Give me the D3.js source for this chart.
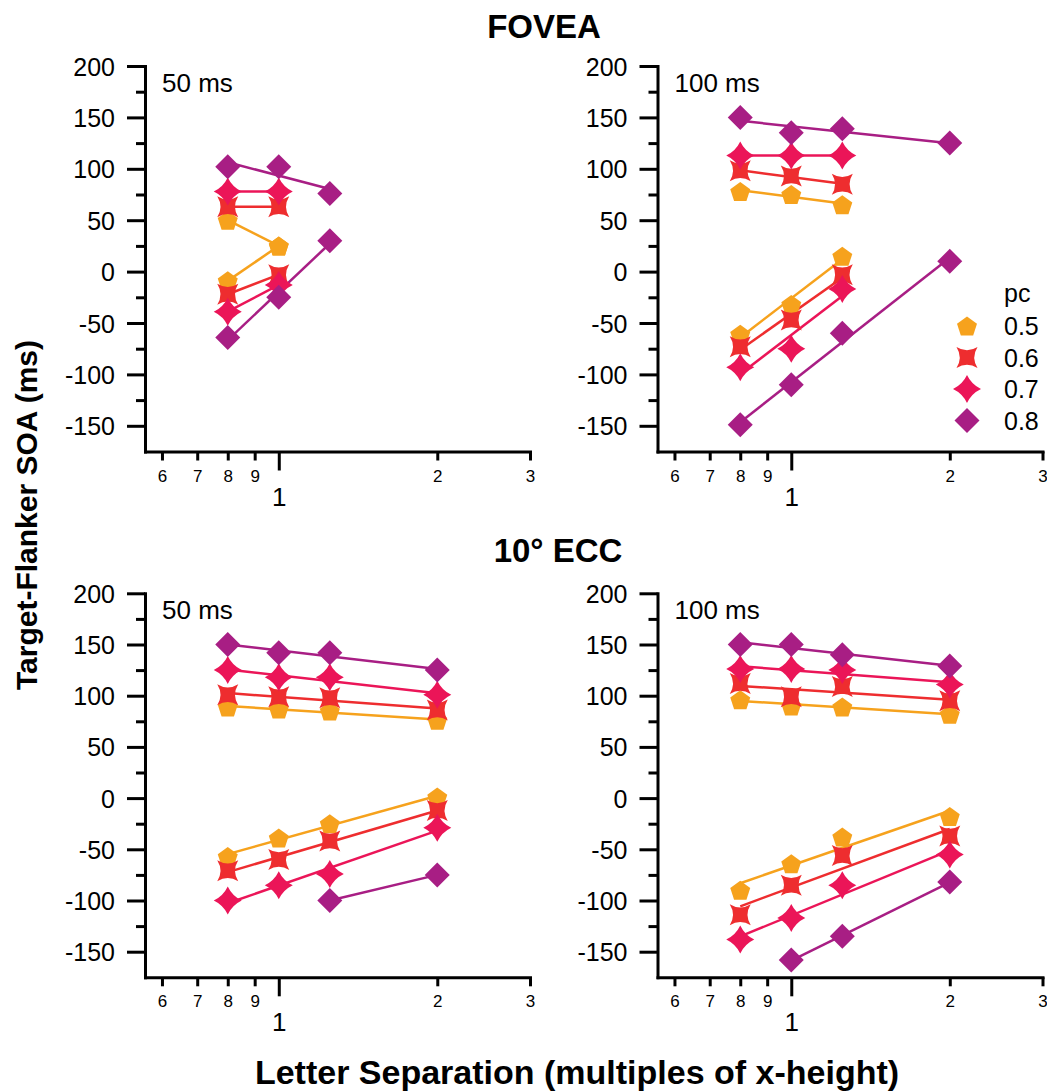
<!DOCTYPE html>
<html>
<head>
<meta charset="utf-8">
<script src="https://cdn.jsdelivr.net/npm/d3@7"></script>
<style>
  html, body { margin: 0; padding: 0; background: #fff; }
  svg { display: block; }
  text { font-family: "Liberation Sans", Arial, Helvetica, sans-serif; fill: #000; }
</style>
</head>
<body>
<svg id="chart" width="1047" height="1091"></svg>
<script>
// ---------- data ----------
const pcLevels = ["0.5", "0.6", "0.7", "0.8"];
const pcColors = ["#F6A21D", "#EE2D2F", "#EB1558", "#A81E84"];
const minorTickValues = [0.6, 0.7, 0.8, 0.9, 2, 3];
const minorTickLabels = ["6", "7", "8", "9", "2", "3"];
const majorTickValues = [1];
const majorTickLabels = ["1"];
const yTickValues = [-150, -100, -50, 0, 50, 100, 150, 200];
const yTickLabels = ["-150", "-100", "-50", "0", "50", "100", "150", "200"];
const yMinorTickValues = [-125, -75, -25, 25, 75, 125, 175];
const rowTitles = ["FOVEA", "10° ECC"];
const durationLabels = ["50 ms", "100 ms"];
const yTitle = "Target-Flanker SOA (ms)";
const xTitle = "Letter Separation (multiples of x-height)";

// each branch: pc level, separations, SOA values
const fovea50 = [
  { pc: "0.5", x: [0.8, 1], y: [50, 25] },
  { pc: "0.5", x: [0.8, 1], y: [-9, 25] },
  { pc: "0.6", x: [0.8, 1], y: [63, 63] },
  { pc: "0.6", x: [0.8, 1], y: [-22, -3] },
  { pc: "0.7", x: [0.8, 1], y: [78, 78] },
  { pc: "0.7", x: [0.8, 1], y: [-39, -13] },
  { pc: "0.8", x: [0.8, 1, 1.25], y: [102, 102, 76] },
  { pc: "0.8", x: [0.8, 1, 1.25], y: [-64, -25, 30] }
];
const fovea100 = [
  { pc: "0.5", x: [0.8, 1, 1.25], y: [78, 75, 65] },
  { pc: "0.5", x: [0.8, 1, 1.25], y: [-61, -32, 15] },
  { pc: "0.6", x: [0.8, 1, 1.25], y: [98, 93, 85] },
  { pc: "0.6", x: [0.8, 1, 1.25], y: [-73, -47, -3] },
  { pc: "0.7", x: [0.8, 1, 1.25], y: [113, 113, 113] },
  { pc: "0.7", x: [0.8, 1, 1.25], y: [-93, -75, -17] },
  { pc: "0.8", x: [0.8, 1, 1.25, 2], y: [150, 135, 139, 125] },
  { pc: "0.8", x: [0.8, 1, 1.25, 2], y: [-149, -110, -60, 10] }
];
const ecc50 = [
  { pc: "0.5", x: [0.8, 1, 1.25, 2], y: [89, 87, 85, 76] },
  { pc: "0.5", x: [0.8, 1, 1.25, 2], y: [-57, -39, -25, 1] },
  { pc: "0.6", x: [0.8, 1, 1.25, 2], y: [101, 99, 98, 86] },
  { pc: "0.6", x: [0.8, 1, 1.25, 2], y: [-71, -60, -42, -12] },
  { pc: "0.7", x: [0.8, 1, 1.25, 2], y: [125, 118, 118, 101] },
  { pc: "0.7", x: [0.8, 1, 1.25, 2], y: [-100, -85, -74, -29] },
  { pc: "0.8", x: [0.8, 1, 1.25, 2], y: [150, 142, 142, 125] },
  { pc: "0.8", x: [1.25, 2], y: [-100, -75] }
];
const ecc100 = [
  { pc: "0.5", x: [0.8, 1, 1.25, 2], y: [96, 90, 89, 82] },
  { pc: "0.5", x: [0.8, 1, 1.25, 2], y: [-90, -64, -38, -18] },
  { pc: "0.6", x: [0.8, 1, 1.25, 2], y: [112, 99, 109, 95] },
  { pc: "0.6", x: [0.8, 1, 1.25, 2], y: [-114, -85, -56, -37] },
  { pc: "0.7", x: [0.8, 1, 1.25, 2], y: [126, 126, 125, 111] },
  { pc: "0.7", x: [0.8, 1, 1.25, 2], y: [-138, -117, -85, -55] },
  { pc: "0.8", x: [0.8, 1, 1.25, 2], y: [150, 150, 140, 129] },
  { pc: "0.8", x: [1, 1.25, 2], y: [-158, -135, -82] }
];

// ---------- layout ----------
const svg = d3.select("#chart");
const color = d3.scaleOrdinal().domain(pcLevels).range(pcColors);

const panels = [
  { data: fovea50, label: durationLabels[0], left: 145, top: 66, bottom: 451.5 },
  { data: fovea100, label: durationLabels[1], left: 657.5, top: 66, bottom: 451.5 },
  { data: ecc50, label: durationLabels[0], left: 145, top: 593.3, bottom: 977.3 },
  { data: ecc100, label: durationLabels[1], left: 657.5, top: 593.3, bottom: 977.3 }
];
const xWidth = 385;

// marker shapes
function markerPath(pc) {
  if (pc === "0.5") {
    const R = 10.5;
    const pts = d3.range(5).map(k => {
      const a = (-90 + 72 * k) * Math.PI / 180;
      return [R * Math.cos(a), R * Math.sin(a) + 1];
    });
    return "M" + pts.map(p => p.join(",")).join("L") + "Z";
  }
  if (pc === "0.6") {
    const h = 10.5, c = 4;
    return `M${-h},${-h}Q0,${-c} ${h},${-h}Q${c},0 ${h},${h}Q0,${c} ${-h},${h}Q${-c},0 ${-h},${-h}Z`;
  }
  if (pc === "0.7") {
    const R = 14, c = 4.5;
    return `M0,${-R}Q${c},${-c} ${R},0Q${c},${c} 0,${R}Q${-c},${c} ${-R},0Q${-c},${-c} 0,${-R}Z`;
  }
  const d = 12.5;
  return `M0,${-d}L${d},0L0,${d}L${-d},0Z`;
}

// least-squares fit in log(x)
function fitLine(xs, ys) {
  const lx = xs.map(Math.log);
  const mx = d3.mean(lx), my = d3.mean(ys);
  const sxx = d3.sum(lx, v => (v - mx) * (v - mx));
  const sxy = d3.sum(lx.map((v, i) => (v - mx) * (ys[i] - my)));
  const b = sxx > 0 ? sxy / sxx : 0;
  const x0 = d3.min(xs), x1 = d3.max(xs);
  return [[x0, my + b * (Math.log(x0) - mx)], [x1, my + b * (Math.log(x1) - mx)]];
}

panels.forEach(p => {
  const x = d3.scaleLog().domain([Math.pow(2, -0.844), 3]).range([p.left, p.left + xWidth]);
  const y = d3.scaleLinear().domain([-175, 200]).range([p.bottom, p.top]);
  const g = svg.append("g");

  // y axis
  const yAxis = g.append("g").attr("transform", `translate(${p.left},0)`)
    .call(d3.axisLeft(y).tickValues(yTickValues).tickSize(18).tickSizeOuter(0).tickPadding(12)
      .tickFormat((d, i) => yTickLabels[i]));
  yAxis.selectAll("text").attr("font-size", 25).attr("font-family", null).attr("dy", "0.36em");
  const yMinor = g.append("g").attr("transform", `translate(${p.left},0)`)
    .call(d3.axisLeft(y).tickValues(yMinorTickValues).tickSize(9).tickFormat(""));
  yMinor.select(".domain").remove();

  // x axis
  const xAxis = g.append("g").attr("transform", `translate(0,${p.bottom})`)
    .call(d3.axisBottom(x).tickValues(minorTickValues).tickSize(9).tickSizeOuter(0)
      .tickFormat((d, i) => minorTickLabels[i]));
  xAxis.selectAll("text").attr("font-size", 17).attr("font-family", null).attr("y", 30).attr("dy", 0);
  const xMajor = g.append("g").attr("transform", `translate(0,${p.bottom})`)
    .call(d3.axisBottom(x).tickValues(majorTickValues).tickSize(19).tickSizeOuter(0)
      .tickFormat((d, i) => majorTickLabels[i]));
  xMajor.select(".domain").remove();
  xMajor.selectAll("text").attr("font-size", 26).attr("font-family", null).attr("y", 54).attr("dy", 0);

  g.selectAll(".domain").attr("stroke-width", 3).attr("stroke-linecap", "square");
  g.selectAll(".tick line").attr("stroke-width", 3);

  // panel label
  g.append("text").attr("x", p.left + 17).attr("y", p.top + 26)
    .attr("font-size", 26).text(p.label);

  // fitted lines
  const line = d3.line().x(d => x(d[0])).y(d => y(d[1]));
  g.append("g").selectAll("path").data(p.data).join("path")
    .attr("d", d => line(fitLine(d.x, d.y)))
    .attr("fill", "none").attr("stroke", d => color(d.pc)).attr("stroke-width", 2.5);

  // markers
  const pts = p.data.flatMap(d => d.x.map((xv, i) => ({ pc: d.pc, x: xv, y: d.y[i] })));
  g.append("g").selectAll("path").data(pts).join("path")
    .attr("transform", d => `translate(${x(d.x)},${y(d.y)})`)
    .attr("d", d => markerPath(d.pc))
    .attr("fill", d => color(d.pc));
});

// titles
svg.append("text").attr("x", 544).attr("y", 38).attr("text-anchor", "middle")
  .attr("font-size", 33).attr("font-weight", "bold").text(rowTitles[0]);
svg.append("text").attr("x", 558).attr("y", 561.5).attr("text-anchor", "middle")
  .attr("font-size", 33).attr("font-weight", "bold").text(rowTitles[1]);
svg.append("text").attr("transform", "translate(37,515) rotate(-90)").attr("text-anchor", "middle")
  .attr("font-size", 30).attr("font-weight", "bold").text(yTitle);
svg.append("text").attr("x", 577).attr("y", 1084).attr("text-anchor", "middle")
  .attr("font-size", 34).attr("font-weight", "bold").text(xTitle);

// legend
const legend = svg.append("g");
legend.append("text").attr("x", 1004).attr("y", 302).attr("font-size", 25).text("pc");
pcLevels.forEach((pc, i) => {
  const cy = 326 + i * 31.5;
  legend.append("path").attr("transform", `translate(967,${cy})`)
    .attr("d", markerPath(pc)).attr("fill", color(pc));
  legend.append("text").attr("x", 1004).attr("y", cy).attr("dy", "0.36em")
    .attr("font-size", 25).text(pc);
});
</script>
</body>
</html>
